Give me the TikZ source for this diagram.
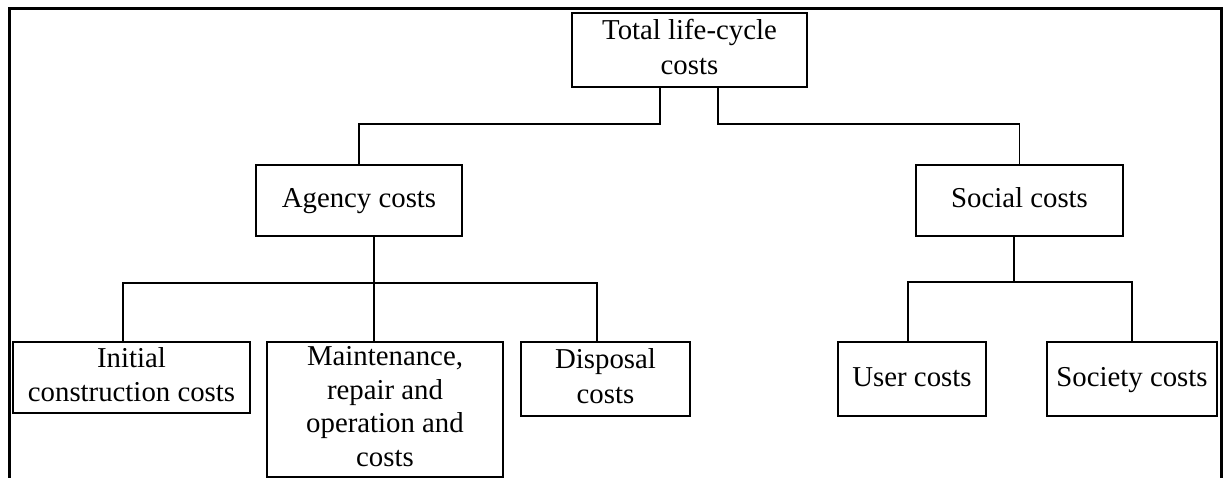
\documentclass[tikz,border=0pt]{standalone}
\usepackage{fontspec}
\setmainfont{Liberation Serif}
\begin{document}
\begin{tikzpicture}[x=1pt,y=-1pt,
  box/.style={draw, line width=1.3pt, rectangle, inner sep=0pt, align=center,
    font=\fontsize{28.8}{35}\selectfont},
  link/.style={line width=1.3pt},
  frame/.style={line width=3pt}]
\useasboundingbox (0,0) rectangle (1224,478);
% outer frame (open at the bottom)
\coordinate (f1) at (9,478);
\coordinate (f2) at (9,9);
\coordinate (f3) at (1221,9);
\coordinate (f4) at (1221,478);
\draw[frame] (f1) -- (f2) -- (f3) -- (f4);
% boxes
\node[box, minimum width=235pt, minimum height=74pt] (total) at (689.5,50) {\strut Total life-cycle\\\strut costs};
\node[box, minimum width=206pt, minimum height=71pt] (agency) at (359,200.5) {\strut Agency costs};
\node[box, minimum width=207pt, minimum height=71pt] (social) at (1019.5,200.5) {\strut Social costs};
\node[box, minimum width=237pt, minimum height=71pt] (init) at (131.5,377.5) {\strut Initial\\\strut construction costs};
\node[box, minimum width=236pt, minimum height=135pt, font=\fontsize{28.8}{33.5}\selectfont] (maint) at (385,409.5) {\strut Maintenance,\\\strut repair and\\\strut operation and\\\strut costs};
\node[box, minimum width=169pt, minimum height=74pt] (disp) at (605.5,379) {\strut Disposal\\\strut costs};
\node[box, minimum width=148pt, minimum height=74pt] (user) at (912,379) {\strut User costs};
\node[box, minimum width=170pt, minimum height=74pt] (society) at (1132,379) {\strut Society costs};
% junction coordinates
\coordinate (t1) at (660,124);
\coordinate (t2) at (718,124);
\coordinate (a0) at (374,283);
\coordinate (a1) at (123,283);
\coordinate (a3) at (597,283);
\coordinate (s0) at (1014,282);
\coordinate (s1) at (908,282);
\coordinate (s2) at (1132,282);
% connectors
\draw[link] (total.south -| t1) -- (t1) -| (agency.north);
\draw[link] (total.south -| t2) -- (t2) -| (social.north);
\draw[link] (agency.south -| a0) -- (maint.north -| a0);
\draw[link] (init.north -| a1) -- (a1) -- (a3) -- (disp.north -| a3);
\draw[link] (social.south -| s0) -- (s0);
\draw[link] (user.north -| s1) -- (s1) -- (s2) -- (society.north -| s2);
\end{tikzpicture}
\end{document}
